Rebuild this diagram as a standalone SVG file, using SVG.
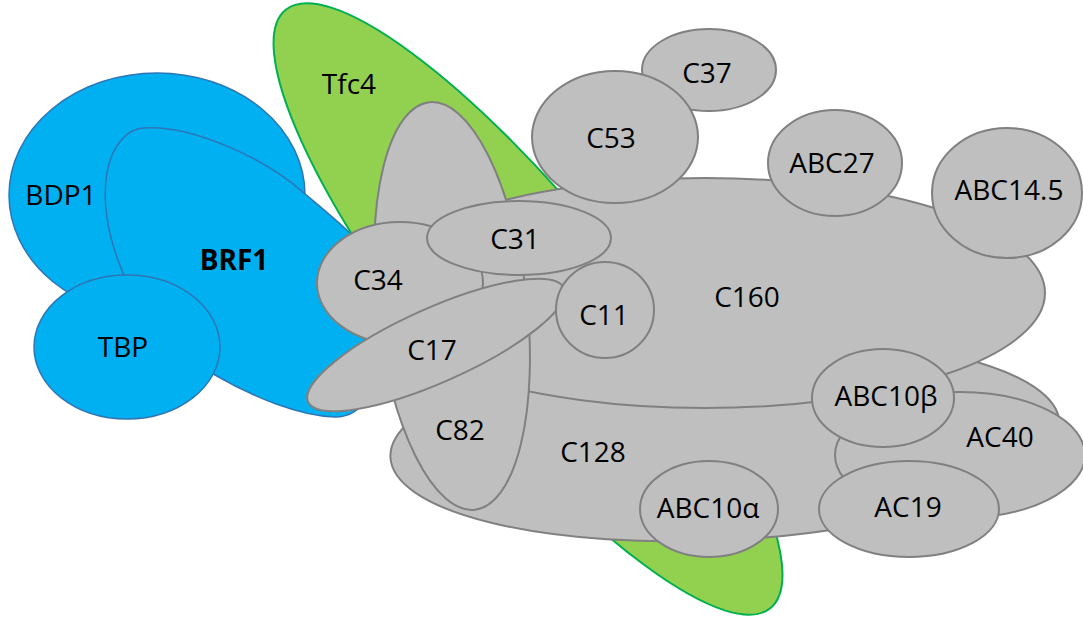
<svg xmlns="http://www.w3.org/2000/svg" width="1083" height="619" viewBox="0 0 1083 619">
<style>
.blue{fill:#00B0F0;stroke:#2E75B6;stroke-width:1.5}
.green{fill:#92D050;stroke:#00B050;stroke-width:2}
.gray{fill:#BFBFBF;stroke:#808080;stroke-width:2}
text{font-family:"Open Sans","Liberation Sans",sans-serif;font-size:28px;fill:#000;text-anchor:middle}
.b{font-weight:bold}
</style>
<rect width="1083" height="619" fill="#fff"/>
<g id="BDP1"><ellipse class="blue" cx="157" cy="195" rx="148" ry="122"/><text x="61" y="205">BDP1</text></g>
<g id="BRF1"><path class="blue" d="M143,128 C190,124 265,158 304,193 C330,215 355,235 375,260 L395,330 L370,395 C360,410 350,417 335,417 C300,416 255,398 215,375 C170,350 135,310 118,260 C105,225 100,185 112,155 C120,138 130,129 143,128 Z"/><text class="b" x="234" y="270">BRF1</text></g>
<g id="TBP"><ellipse class="blue" cx="127" cy="347" rx="93" ry="72"/><text x="123" y="357">TBP</text></g>
<g id="Tfc4"><ellipse class="green" cx="528" cy="309" rx="385" ry="100" transform="rotate(51 528 309)"/><text x="349" y="94">Tfc4</text></g>
<g id="C128"><ellipse class="gray" cx="725" cy="440" rx="335" ry="100" transform="rotate(-3 725 440)"/><text x="593" y="462">C128</text></g>
<g id="C160"><ellipse class="gray" cx="705" cy="293" rx="340" ry="115"/><text x="747" y="307">C160</text></g>
<g id="ABC27"><ellipse class="gray" cx="835" cy="163" rx="67" ry="53"/><text x="832" y="173">ABC27</text></g>
<g id="ABC14.5"><ellipse class="gray" cx="1007" cy="193" rx="75" ry="65"/><text x="1009" y="200">ABC14.5</text></g>
<g id="C37"><ellipse class="gray" cx="709" cy="70" rx="67" ry="41"/><text x="707" y="83">C37</text></g>
<g id="C53"><ellipse class="gray" cx="615" cy="137" rx="83" ry="66"/><text x="611" y="148">C53</text></g>
<g id="C82"><ellipse class="gray" cx="452" cy="306" rx="75" ry="205" transform="rotate(-6.4 452 306)"/><text x="460" y="440">C82</text></g>
<g id="C34"><ellipse class="gray" cx="400" cy="283" rx="83" ry="61"/><text x="378" y="290">C34</text></g>
<g id="C31"><ellipse class="gray" cx="519" cy="238" rx="92" ry="37"/><text x="515" y="249">C31</text></g>
<g id="C17"><ellipse class="gray" cx="436" cy="345" rx="140" ry="37" transform="rotate(-24 436 345)"/><text x="432" y="360">C17</text></g>
<g id="C11"><ellipse class="gray" cx="605" cy="310" rx="49" ry="48"/><text x="604" y="325">C11</text></g>
<g id="AC40"><ellipse class="gray" cx="960" cy="455" rx="125" ry="63"/><text x="1000" y="447">AC40</text></g>
<g id="ABC10b"><ellipse class="gray" cx="883" cy="398" rx="71" ry="49"/><text x="886" y="406">ABC10β</text></g>
<g id="AC19"><ellipse class="gray" cx="909" cy="509" rx="90" ry="48"/><text x="908" y="517">AC19</text></g>
<g id="ABC10a"><ellipse class="gray" cx="709" cy="509" rx="69" ry="48"/><text x="708" y="518">ABC10α</text></g>
<g id="connectors"/>
</svg>
